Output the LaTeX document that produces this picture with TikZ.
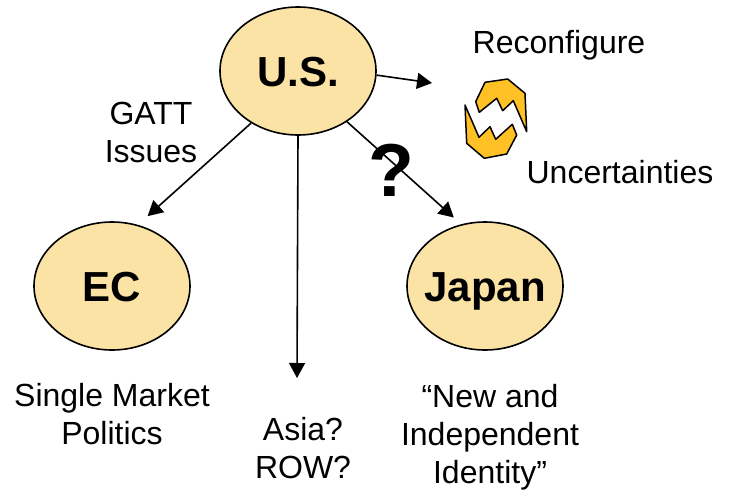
\documentclass[tikz,border=0pt]{standalone}
\usepackage{fontspec}
\setmainfont{Liberation Sans}
\usetikzlibrary{arrows.meta,shapes.geometric}
\definecolor{tan}{HTML}{FBE2A5}
\definecolor{amber}{HTML}{FFC125}
\tikzset{
  blob/.style={ellipse,draw=black,line width=1.6pt,fill=tan,minimum width=156pt,minimum height=128pt,inner xsep=-12pt,inner ysep=0pt,text height=30pt,text depth=0pt,font=\bfseries\fontsize{42}{44}\selectfont},
  link/.style={draw=black,line width=1.6pt,-{Triangle[length=15pt,width=16pt]}},
  lbl/.style={font=\fontsize{32}{38}\selectfont,align=center,text=black,inner sep=0pt},
  bolt/.style={draw=black,line width=1.5pt,fill=amber,line join=round}
}
\begin{document}
\begin{tikzpicture}[x=1pt,y=-1pt]
\useasboundingbox (0,0) rectangle (733,490);
\node[blob] (us) at (298,71) {U.S.};
\node[blob] (ec) at (112,286) {EC};
\node[blob] (japan) at (485,286) {Japan};
\coordinate (re) at (432,83);
\coordinate (as) at (297,378);
\draw[link] (us.-3.6) -- (re);
\draw[link,shorten >=13pt] (us.228) -- (ec.67.4);
\draw[link] (us.south) -- (as);
\draw[link,shorten >=10pt] (us.-46.7) -- (japan.111.5);
\draw[bolt] (485,82.3) -- (507.7,79) -- (525,93.3) -- (526.7,131.7) -- (513.3,100.7) -- (502.7,110.7) -- (496.7,98.3) -- (479.3,112.3) -- (475.7,101.7) -- cycle;
\draw[bolt] (465,105) -- (479,137.3) -- (490,126.7) -- (495.7,139.3) -- (512.3,124.3) -- (516.7,135) -- (506.7,154) -- (484.3,158.3) -- (466.7,143.3) -- cycle;
\node[font=\bfseries\fontsize{75}{78}\selectfont,inner sep=0pt] (q) at (391,170) {?};
\node[lbl] (gatt) at (151,132) {GATT\\Issues};
\node[lbl] (rec) at (559,45) {Reconfigure};
\node[lbl] (unc) at (620,172) {Uncertainties};
\node[lbl] (sm) at (112,414) {Single Market\\Politics};
\node[lbl] (asia) at (303,448) {Asia?\\ROW?};
\node[lbl] (new) at (490,437) {“New and\\Independent\\Identity”};
\end{tikzpicture}
\end{document}
